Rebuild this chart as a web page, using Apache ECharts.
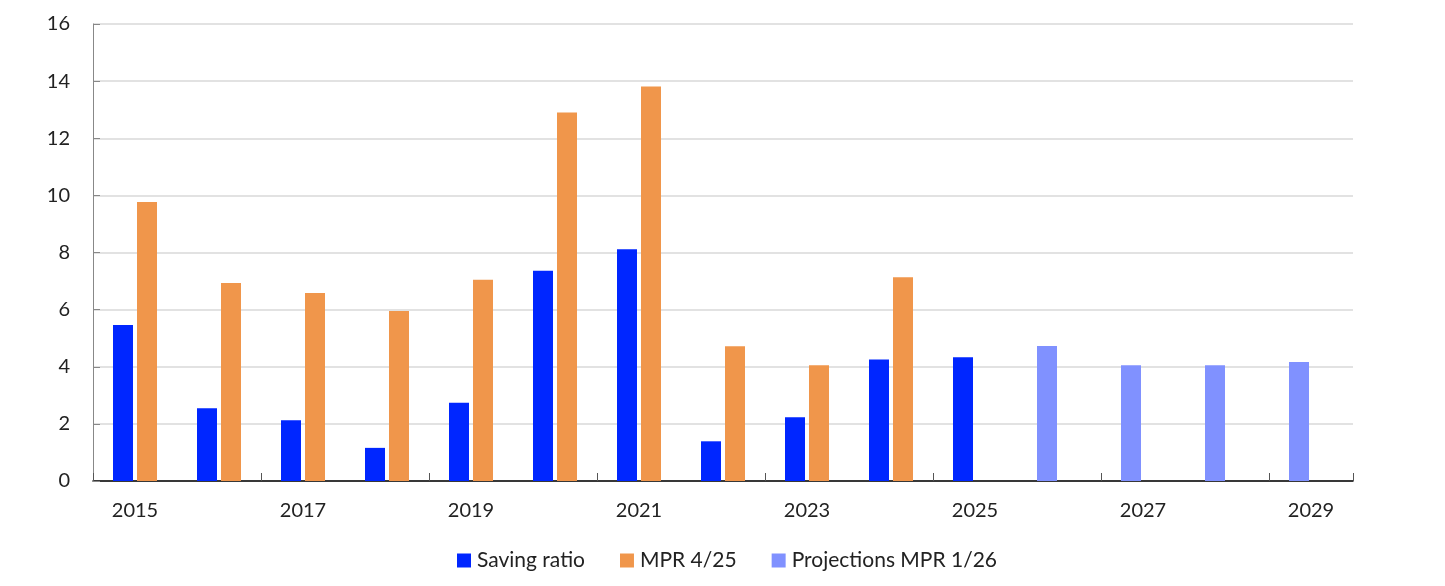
<!DOCTYPE html>
<html>
<head>
<meta charset="utf-8">
<script src="https://cdn.jsdelivr.net/npm/echarts@6/dist/echarts.min.js"></script>
<style>html,body{margin:0;padding:0;background:#fff}#c{width:1445px;height:586px}</style>
</head>
<body>
<div id="c"></div>
<script>
const years = ['2015','2016','2017','2018','2019','2020','2021','2022','2023','2024','2025','2026','2027','2028','2029'];
const savingRatio = [5.46, 2.55, 2.13, 1.16, 2.74, 7.36, 8.11, 1.39, 2.23, 4.25, 4.33, null, null, null, null];
const mpr425 = [9.77, 6.93, 6.58, 5.95, 7.05, 12.9, 13.81, 4.72, 4.05, 7.13, null, null, null, null, null];
const projections126 = [null, null, null, null, null, null, null, null, null, null, null, 4.73, 4.05, 4.05, 4.17];

const FONT = 'Lato';
const chart = echarts.init(document.getElementById('c'));
chart.setOption({
  animation: false,
  textStyle: { fontFamily: FONT },
  grid: { left: 93, right: 92, top: 24, bottom: 105, containLabel: false },
  legend: {
    left: 452, top: 545,
    itemWidth: 14, itemHeight: 14, itemGap: 35,
    textStyle: { fontFamily: FONT, fontSize: 21, color: '#222', padding: [0, 0, 0, 1] },
    icon: 'rect',
    data: ['Saving ratio', 'MPR 4/25', 'Projections MPR 1/26']
  },
  xAxis: {
    type: 'category',
    data: years,
    axisLine: { lineStyle: { color: '#000', width: 1.5 } },
    axisTick: { show: true, inside: true, length: 8, interval: 1, lineStyle: { color: '#555' } },
    axisLabel: { interval: 1, fontFamily: FONT, fontSize: 20, color: '#222', margin: 20 }
  },
  yAxis: {
    type: 'value', min: 0, max: 16, interval: 2,
    axisLine: { show: true, lineStyle: { color: '#888' } },
    axisTick: { show: true, inside: true, length: 7, lineStyle: { color: '#888' } },
    axisLabel: { fontFamily: FONT, fontSize: 20, color: '#222', margin: 23 },
    splitLine: { lineStyle: { color: '#d9d9d9', width: 1.5 } }
  },
  series: [
    { name: 'Saving ratio', type: 'bar', stack: 'a', data: savingRatio, barWidth: 20, barGap: '20%', itemStyle: { color: '#0026ff' } },
    { name: 'MPR 4/25', type: 'bar', data: mpr425, barWidth: 20, barGap: '20%', itemStyle: { color: '#f0964b' } },
    { name: 'Projections MPR 1/26', type: 'bar', stack: 'a', data: projections126, barWidth: 20, barGap: '20%', itemStyle: { color: '#8091ff' } }
  ]
});
</script>
</body>
</html>
